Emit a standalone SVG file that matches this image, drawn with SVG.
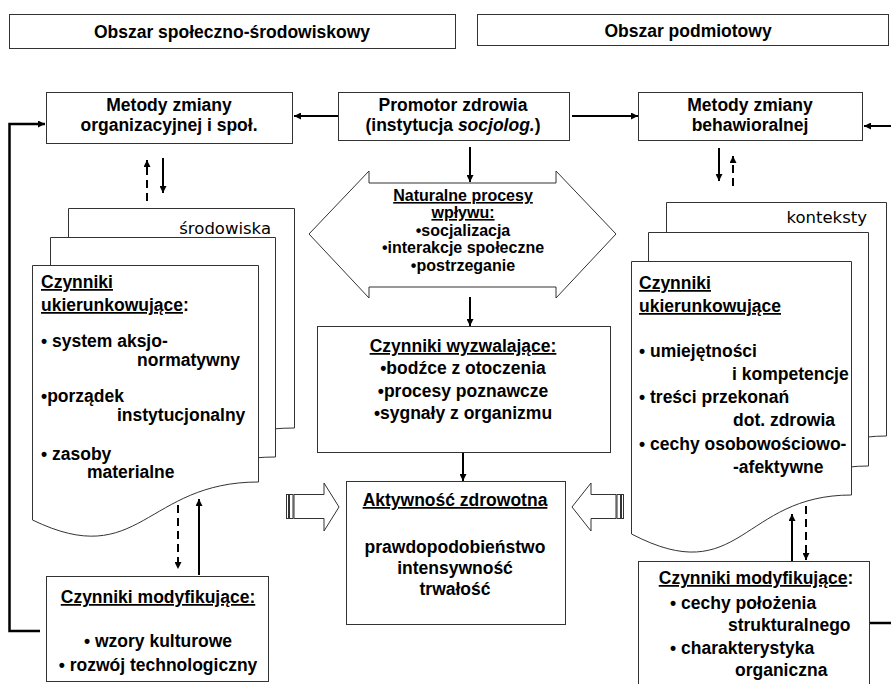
<svg xmlns="http://www.w3.org/2000/svg" width="891" height="684" viewBox="0 0 891 684">
<style>
.box{fill:#fff;stroke:#333;stroke-width:1}
.pg{fill:#fff;stroke:#333;stroke-width:1}
.t{font-family:"Liberation Sans",Arial,sans-serif;font-weight:bold;font-size:17.5px;fill:#000}
.s{font-size:16px}
.c{text-anchor:middle}
.e{text-anchor:end}
.u{text-decoration:underline}
.r{font-family:"DejaVu Sans",Verdana,sans-serif;font-weight:normal;font-size:16.5px}
.ln{stroke:#000;stroke-width:2;fill:none}
.thick{stroke-width:2.5}
.dash{stroke-dasharray:8 5}
</style>
<defs>
<marker id="ah" viewBox="0 0 10 10" refX="10" refY="5" markerWidth="8" markerHeight="7" markerUnits="userSpaceOnUse" orient="auto">
<path d="M0,0 L10,5 L0,10 z" fill="#000"/>
</marker>
</defs>
<rect width="891" height="684" fill="#fff"/>

<g id="header-left">
<rect class="box" x="9.5" y="14.5" width="446" height="34"/>
<text class="t c" x="232" y="38">Obszar społeczno-środowiskowy</text>
</g>
<g id="header-right">
<rect class="box" x="477.5" y="14.5" width="411" height="31"/>
<text class="t c" x="688" y="37">Obszar podmiotowy</text>
</g>

<g id="metody-org">
<rect class="box" x="46.5" y="92.5" width="246" height="51"/>
<text class="t c" x="169" y="111">Metody zmiany</text>
<text class="t c" x="169" y="131">organizacyjnej i społ.</text>
</g>
<g id="promotor">
<rect class="box" x="338.5" y="92.5" width="231" height="48"/>
<text class="t c" x="453" y="111">Promotor zdrowia</text>
<text class="t c" x="453" y="131">(instytucja <tspan font-style="italic">socjolog.</tspan>)</text>
</g>
<g id="metody-beh">
<rect class="box" x="638.5" y="92.5" width="224" height="48"/>
<text class="t c" x="750" y="111">Metody zmiany</text>
<text class="t c" x="750" y="131">behawioralnej</text>
</g>

<g id="naturalne">
<polygon class="box" points="309,234 369,171 369,183 556,183 556,171 616,234 556,298 556,287 369,287 369,298"/>
<text class="t s c" x="463" y="201"><tspan class="u">Naturalne procesy</tspan></text>
<text class="t s c" x="463" y="218"><tspan class="u">wpływu:</tspan></text>
<text class="t s c" x="463" y="236">•socjalizacja</text>
<text class="t s c" x="463" y="253">•interakcje społeczne</text>
<text class="t s c" x="463" y="271">•postrzeganie</text>
</g>

<g id="wyzwalajace">
<rect class="box" x="317.5" y="326.5" width="293" height="126"/>
<text class="t c" x="463" y="352"><tspan class="u">Czynniki wyzwalające:</tspan></text>
<text class="t c" x="463" y="374">•bodźce z otoczenia</text>
<text class="t c" x="463" y="397">•procesy poznawcze</text>
<text class="t c" x="463" y="419">•sygnały z organizmu</text>
</g>

<g id="aktywnosc">
<rect class="box" x="346.5" y="481.5" width="219" height="143"/>
<text class="t c" x="455" y="506"><tspan class="u">Aktywność zdrowotna</tspan></text>
<text class="t c" x="455" y="553">prawdopodobieństwo</text>
<text class="t c" x="455" y="574">intensywność</text>
<text class="t c" x="455" y="595">trwałość</text>
</g>

<g id="ukier-left">
<path class="pg" d="M68.5,208.5 H294.5 V428 C181,428 176,505 68.5,461 Z"/>
<text class="t r e" x="271" y="234">środowiska</text>
<path class="pg" d="M50.5,237.5 H275.5 V457 C163,457 158,535 50.5,492 Z"/>
<path class="pg" d="M32.5,265.5 H258.5 V482 C145,482 140,572 32.5,520 Z"/>
<text class="t" x="41" y="288"><tspan class="u">Czynniki</tspan></text>
<text class="t" x="41" y="311"><tspan class="u">ukierunkowujące</tspan>:</text>
<text class="t" x="41" y="347">• system aksjo-</text>
<text class="t" x="137" y="366">normatywny</text>
<text class="t" x="41" y="402">•porządek</text>
<text class="t" x="117" y="421">instytucjonalny</text>
<text class="t" x="41" y="460">• zasoby</text>
<text class="t" x="87" y="478">materialne</text>
</g>

<g id="ukier-right">
<path class="pg" d="M666.5,202.5 H886.5 V436 C776,436 776,532 666.5,475 Z"/>
<text class="t r e" x="867" y="223">konteksty</text>
<path class="pg" d="M648.5,232.5 H868.5 V466 C758,466 758,562 648.5,505 Z"/>
<path class="pg" d="M631.5,261.5 H851.5 V495 C741,495 741,591 631.5,534 Z"/>
<text class="t" x="639" y="289"><tspan class="u">Czynniki</tspan></text>
<text class="t" x="639" y="312"><tspan class="u">ukierunkowujące</tspan></text>
<text class="t" x="639" y="357">• umiejętności</text>
<text class="t" x="732" y="380">i kompetencje</text>
<text class="t" x="639" y="403">• treści przekonań</text>
<text class="t" x="733" y="426">dot. zdrowia</text>
<text class="t" x="639" y="450">• cechy osobowościowo-</text>
<text class="t" x="733" y="473">-afektywne</text>
</g>

<g id="modyf-left">
<rect class="box" x="46.5" y="576.5" width="222" height="105"/>
<text class="t c" x="158" y="603"><tspan class="u">Czynniki modyfikujące:</tspan></text>
<text class="t c" x="158" y="647">• wzory kulturowe</text>
<text class="t c" x="158" y="671">• rozwój technologiczny</text>
</g>

<g id="modyf-right">
<rect class="box" x="638.5" y="561.5" width="231" height="130"/>
<text class="t c" x="756" y="584"><tspan class="u">Czynniki modyfikujące</tspan>:</text>
<text class="t" x="670" y="609">• cechy położenia</text>
<text class="t" x="728" y="631">strukturalnego</text>
<text class="t" x="670" y="654">• charakterystyka</text>
<text class="t" x="735" y="676">organiczna</text>
</g>

<g id="block-arrow-left">
<rect class="box" x="286.5" y="494.5" width="2" height="24"/>
<rect class="box" x="289.5" y="494.5" width="3.5" height="24"/>
<polygon class="box" points="294,494.5 324,494.5 324,483 339,507 324,531 324,518.5 294,518.5"/>
</g>
<g id="block-arrow-right">
<rect class="box" x="621.5" y="494.5" width="2" height="24"/>
<rect class="box" x="617" y="494.5" width="3.5" height="24"/>
<polygon class="box" points="616,494.5 591,494.5 591,483 572,507 591,531 591,518.5 616,518.5"/>
</g>

<g id="connectors">
<line class="ln" x1="338" y1="116" x2="294" y2="116" marker-end="url(#ah)"/>
<line class="ln" x1="572" y1="116" x2="638" y2="116" marker-end="url(#ah)"/>
<line class="ln" x1="891" y1="126" x2="864" y2="126" marker-end="url(#ah)"/>
<line class="ln" x1="470" y1="147" x2="470" y2="182" marker-end="url(#ah)"/>
<line class="ln" x1="470" y1="297" x2="470" y2="326" marker-end="url(#ah)"/>
<line class="ln" x1="463" y1="453" x2="463" y2="481" marker-end="url(#ah)"/>
<line class="ln dash" x1="147" y1="201" x2="147" y2="160" marker-end="url(#ah)"/>
<line class="ln" x1="163" y1="158" x2="163" y2="193" marker-end="url(#ah)"/>
<line class="ln" x1="719" y1="148" x2="719" y2="181" marker-end="url(#ah)"/>
<line class="ln dash" x1="733" y1="186" x2="733" y2="156" marker-end="url(#ah)"/>
<line class="ln dash" x1="178" y1="505" x2="178" y2="569" marker-end="url(#ah)"/>
<line class="ln" x1="199" y1="575" x2="199" y2="499" marker-end="url(#ah)"/>
<line class="ln" x1="792" y1="561" x2="792" y2="514" marker-end="url(#ah)"/>
<line class="ln dash" x1="806" y1="506" x2="806" y2="560" marker-end="url(#ah)"/>
<path class="ln thick" d="M40,631 H9.5 V124 H45" marker-end="url(#ah)"/>
<line class="ln thick" x1="870" y1="623" x2="891" y2="623"/>
</g>
</svg>
